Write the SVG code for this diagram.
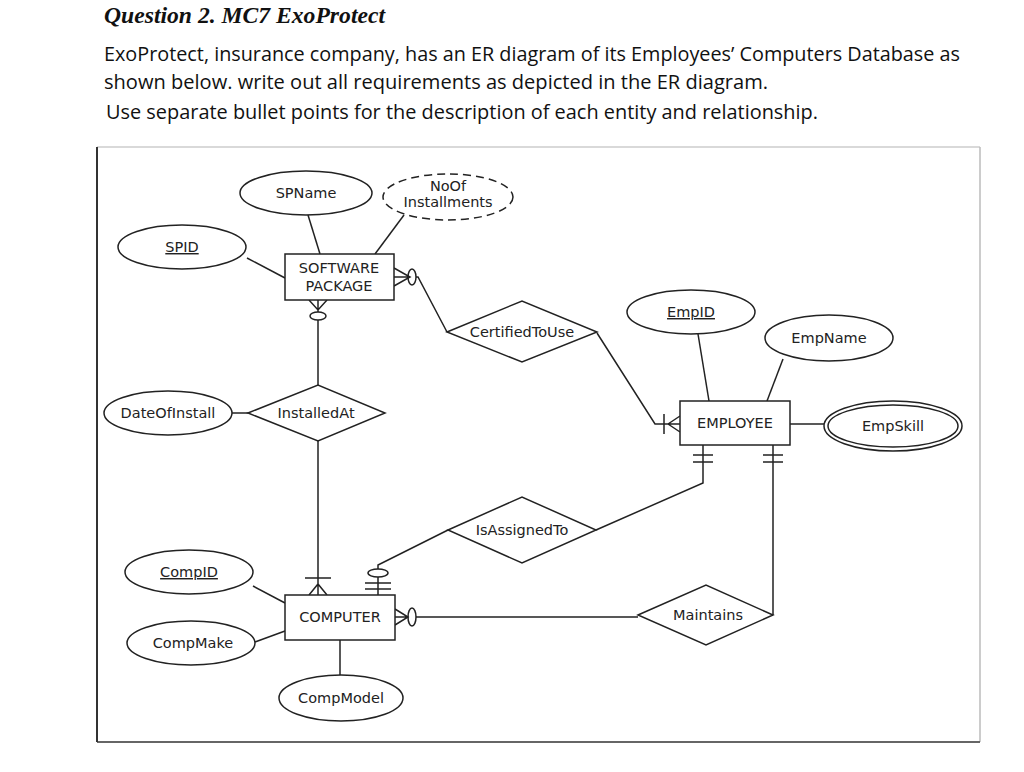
<svg xmlns="http://www.w3.org/2000/svg" width="1024" height="772" viewBox="0 0 1024 772">
<style>
.s{fill:#fff;stroke:#222;stroke-width:1.5}
.c{fill:none;stroke:#222;stroke-width:1.5}
.t{font-family:"DejaVu Sans",sans-serif;font-size:14.5px;fill:#222;text-anchor:middle}
.b{font-family:"Open Sans",sans-serif;font-size:20px;fill:#111}
</style>
<rect width="1024" height="772" fill="#fff"/>
<text x="104" y="23" font-family="Liberation Serif,serif" font-size="23" font-weight="bold" font-style="italic" fill="#111" textLength="281" lengthAdjust="spacingAndGlyphs">Question 2. MC7 ExoProtect</text>
<text class="b" x="104" y="61" textLength="856" lengthAdjust="spacingAndGlyphs">ExoProtect, insurance company, has an ER diagram of its Employees’ Computers Database as</text>
<text class="b" x="104" y="89" textLength="664" lengthAdjust="spacingAndGlyphs">shown below.  write out all requirements as depicted in the ER diagram.</text>
<text class="b" x="106" y="119" textLength="712" lengthAdjust="spacingAndGlyphs">Use separate bullet points for the description of each entity and relationship.</text>
<line x1="97" y1="147" x2="980" y2="147" stroke="#ccc" stroke-width="1.5"/>
<line x1="980" y1="147" x2="980" y2="742" stroke="#bbb" stroke-width="1.5"/>
<line x1="97" y1="742" x2="980" y2="742" stroke="#666" stroke-width="2"/>
<line x1="97" y1="147" x2="97" y2="742" stroke="#333" stroke-width="2"/>
<g id="connectors" class="c">
<line x1="247" y1="258" x2="285" y2="278"/>
<line x1="308" y1="215" x2="320" y2="254"/>
<line x1="404" y1="215" x2="375" y2="254"/>
<path d="M394,268 L410,277 L394,286 M394,277 H408 M416,277 L418,277 L447,332"/>
<ellipse cx="412" cy="277" rx="4" ry="8"/>
<path d="M309,300 L318,310 L327,300 M318,300 V312 M318,320 V385"/>
<ellipse cx="318" cy="316" rx="8" ry="4"/>
<line x1="232" y1="413" x2="248" y2="413"/>
<path d="M318,441 V595 M305,578 H331 M309,595 L318,584 L327,595"/>
<path d="M378,595 V577 M365,589 H391 M365,583 H391 M378,569 V565 L448,530"/>
<ellipse cx="378" cy="573" rx="10" ry="4"/>
<path d="M596,530 L703,483 V445 M693,455 H713 M693,462 H713"/>
<path d="M773,615 V445 M763,455 H783 M763,462 H783"/>
<path d="M395,609 L408,617 L395,625 M395,617 H408 M416,617 H638"/>
<ellipse cx="412" cy="617" rx="4" ry="9"/>
<path d="M597,333 L655,424 H680 M664,414 V434 M668,424 L680,416 M668,424 L680,432"/>
<line x1="698" y1="334" x2="709" y2="401"/>
<line x1="783" y1="359" x2="767" y2="401"/>
<line x1="790" y1="424" x2="824" y2="424"/>
<line x1="253" y1="586" x2="285" y2="603"/>
<line x1="255" y1="642" x2="285" y2="631"/>
<line x1="340" y1="640" x2="340" y2="675"/>
</g>
<g id="spname"><ellipse class="s" cx="306" cy="193" rx="66" ry="22"/><text class="t" x="306" y="198">SPName</text></g>
<g id="noof"><ellipse class="s" cx="448" cy="197" rx="65" ry="23" stroke-dasharray="8,5"/><text class="t" x="448" y="191">NoOf</text><text class="t" x="448" y="207">Installments</text></g>
<g id="spid"><ellipse class="s" cx="182" cy="247" rx="64" ry="22"/><text class="t" x="182" y="252" text-decoration="underline">SPID</text></g>
<g id="software"><rect class="s" x="285" y="254" width="109" height="46"/><text class="t" x="339" y="273">SOFTWARE</text><text class="t" x="339" y="291">PACKAGE</text></g>
<g id="certified"><polygon class="s" points="447,332 522,301 597,332 522,362"/><text class="t" x="522" y="337">CertifiedToUse</text></g>
<g id="installed"><polygon class="s" points="248,413 318,385 385,413 318,441"/><text class="t" x="316" y="418">InstalledAt</text></g>
<g id="dateofinstall"><ellipse class="s" cx="168" cy="413" rx="64" ry="22"/><text class="t" x="168" y="418">DateOfInstall</text></g>
<g id="assigned"><polygon class="s" points="448,530 522,497 596,530 522,563"/><text class="t" x="522" y="535">IsAssignedTo</text></g>
<g id="maintains"><polygon class="s" points="638,615 706,585 773,615 706,645"/><text class="t" x="708" y="620">Maintains</text></g>
<g id="employee"><rect class="s" x="680" y="401" width="110" height="44"/><text class="t" x="735" y="428">EMPLOYEE</text></g>
<g id="empid"><ellipse class="s" cx="691" cy="312" rx="64" ry="22"/><text class="t" x="691" y="317" text-decoration="underline">EmpID</text></g>
<g id="empname"><ellipse class="s" cx="829" cy="338" rx="64" ry="23"/><text class="t" x="829" y="343">EmpName</text></g>
<g id="empskill"><ellipse class="s" cx="893" cy="426" rx="69" ry="25"/><ellipse class="c" cx="893" cy="426" rx="65" ry="21"/><text class="t" x="893" y="431">EmpSkill</text></g>
<g id="computer"><rect class="s" x="285" y="595" width="110" height="45"/><text class="t" x="340" y="622">COMPUTER</text></g>
<g id="compid"><ellipse class="s" cx="189" cy="572" rx="64" ry="22"/><text class="t" x="189" y="577" text-decoration="underline">CompID</text></g>
<g id="compmake"><ellipse class="s" cx="191" cy="643" rx="64" ry="22"/><text class="t" x="193" y="648">CompMake</text></g>
<g id="compmodel"><ellipse class="s" cx="341" cy="698" rx="62" ry="23"/><text class="t" x="341" y="703">CompModel</text></g>
</svg>
